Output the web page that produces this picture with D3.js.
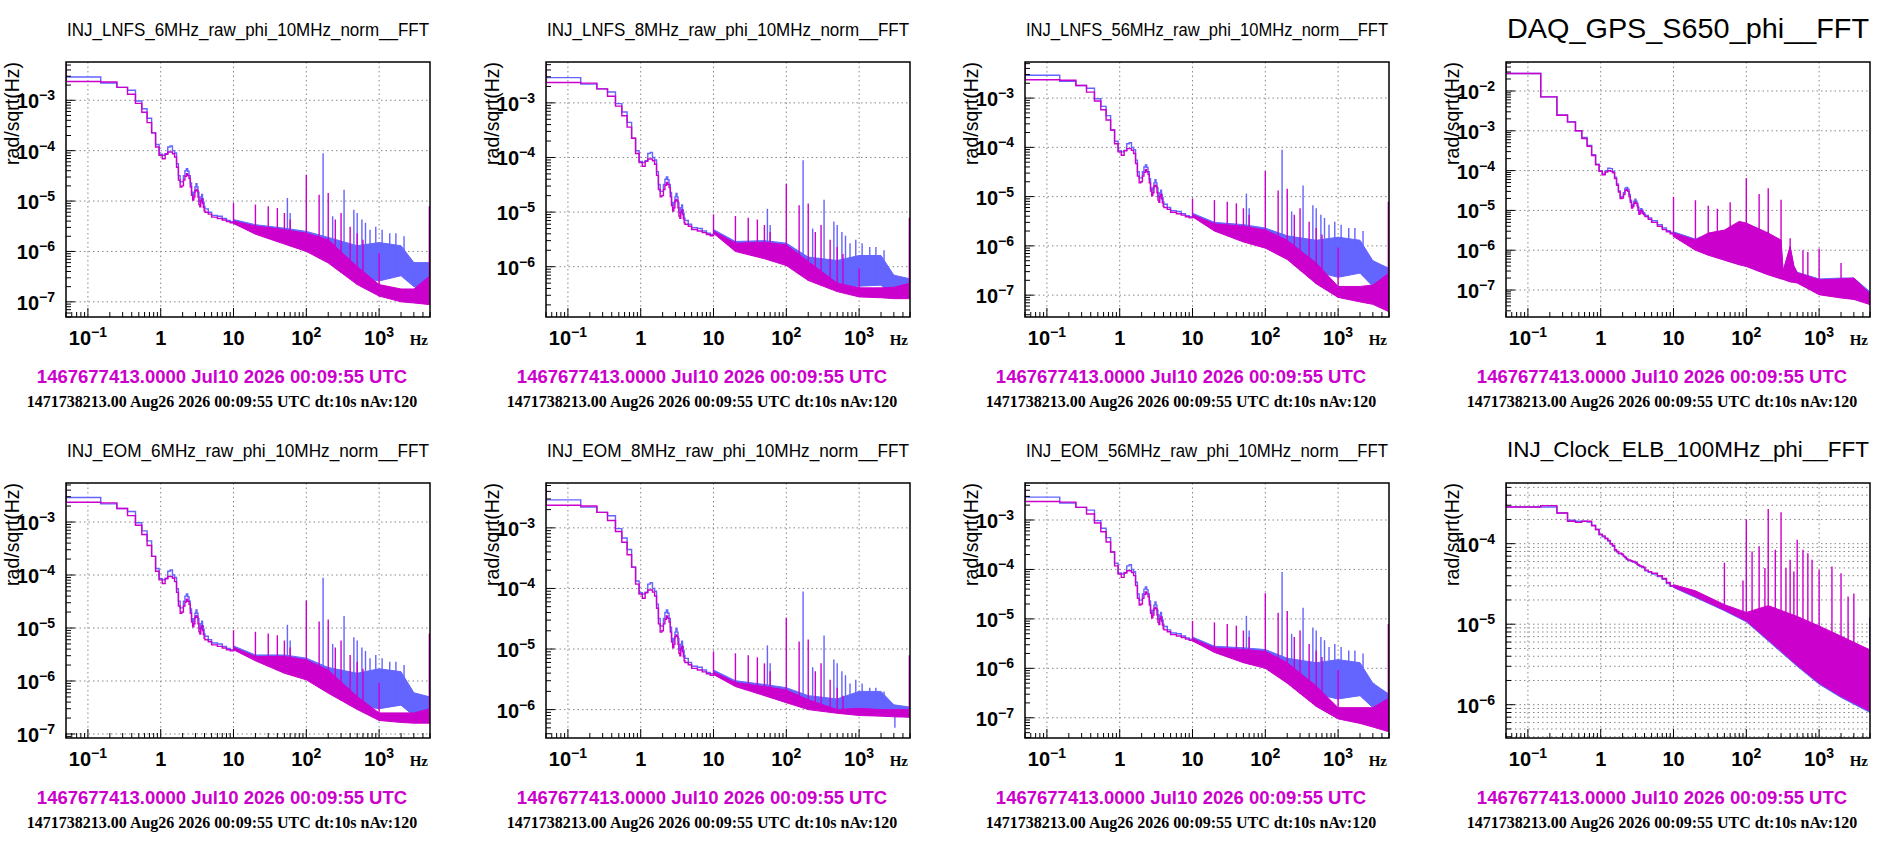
<!DOCTYPE html>
<html><head><meta charset="utf-8">
<script src="https://cdn.jsdelivr.net/npm/d3@7"></script>
<style>body{margin:0;background:#fff}svg{display:block}</style>
</head><body>
<svg id="c" width="1899" height="849"></svg>
<script>
// ---------- DATA ----------
const titles = ["INJ_LNFS_6MHz_raw_phi_10MHz_norm__FFT","INJ_LNFS_8MHz_raw_phi_10MHz_norm__FFT","INJ_LNFS_56MHz_raw_phi_10MHz_norm__FFT","DAQ_GPS_S650_phi__FFT",
  "INJ_EOM_6MHz_raw_phi_10MHz_norm__FFT","INJ_EOM_8MHz_raw_phi_10MHz_norm__FFT","INJ_EOM_56MHz_raw_phi_10MHz_norm__FFT","INJ_Clock_ELB_100MHz_phi__FFT"];
const yDomains = [[5e-8,5.75e-3],[1.2e-7,5.6e-3],[3.6e-8,5.4e-3],[2.1e-8,5.35e-2],[8.4e-8,5.45e-3],[3.4e-7,5.5e-3],[3.9e-8,5.6e-3],[3.86e-7,5.67e-4]];
const xDomain = [0.05, 5000];
const xTickLabels = [[0.1,"10","−1"],[1,"1",""],[10,"10",""],[100,"10","2"],[1000,"10","3"]];
const magentaText = "1467677413.0000 Jul10 2026 00:09:55 UTC";
const blackText = "1471738213.00 Aug26 2026 00:09:55 UTC dt:10s nAv:120";
const yLabel = "rad/sqrt(Hz)";

// low-frequency 0.1 Hz bins centred 0.1 ... 4.0 Hz
const lfMagRF = [2.36e-3,2.3e-3,1.8e-3,1.32e-3,8.7e-4,5.8e-4,3.6e-4,2.25e-4,1.18e-4,8.1e-5,
  6.9e-5,8.5e-5,9.4e-5,9.4e-5,8.7e-5,7.5e-5,4.7e-5,2.6e-5,1.9e-5,2.0e-5,
  2.6e-5,3.1e-5,3.5e-5,3.2e-5,2.8e-5,1.9e-5,1.3e-5,1.05e-5,1.2e-5,1.6e-5,
  1.7e-5,1.6e-5,1.2e-5,8.5e-6,7.7e-6,1.0e-5,1.1e-5,9e-6,7.5e-6,6.4e-6];
const lfBlueRF = [2.9e-3,2.2e-3,1.8e-3,1.58e-3,9.7e-4,6.8e-4,4.4e-4,2.25e-4,1.33e-4,8.5e-5,
  8.1e-5,8.7e-5,1.18e-4,1.24e-4,1.0e-4,9e-5,5.5e-5,3.2e-5,2.4e-5,2.4e-5,
  3.2e-5,4e-5,4.4e-5,3.9e-5,3.2e-5,2.3e-5,1.5e-5,1.3e-5,1.5e-5,1.9e-5,
  2.2e-5,1.9e-5,1.5e-5,1.0e-5,9.5e-6,1.2e-5,1.35e-5,1.1e-5,9.5e-6,7.8e-6];
const lfMagGPS = [2.75e-2,7.1e-3,2.45e-3,1.65e-3,1e-3,6.4e-4,4.1e-4,2.4e-4,1.4e-4,9.6e-5,
  7.9e-5,9.2e-5,1.0e-4,9.6e-5,8.8e-5,6.3e-5,4.3e-5,2.9e-5,2e-5,2.05e-5,
  2.5e-5,3.2e-5,3.3e-5,3.0e-5,2.2e-5,1.6e-5,1.15e-5,1.25e-5,1.5e-5,1.6e-5,
  1.5e-5,1.3e-5,1.0e-5,8e-6,8.5e-6,1.0e-5,9.5e-6,8.5e-6,8e-6,7.8e-6];
const lfBlueGPS = [2.75e-2,7.1e-3,2.5e-3,1.7e-3,1e-3,6.8e-4,4.3e-4,2.5e-4,1.45e-4,9.8e-5,
  8.3e-5,9.8e-5,1.15e-4,1.12e-4,9.5e-5,6.8e-5,4.6e-5,3.1e-5,2.2e-5,2.2e-5,
  2.8e-5,3.6e-5,3.8e-5,3.4e-5,2.5e-5,1.8e-5,1.3e-5,1.4e-5,1.7e-5,1.9e-5,
  1.7e-5,1.5e-5,1.2e-5,9e-6,9.5e-6,1.1e-5,1.05e-5,9.5e-6,8.8e-6,8.5e-6];
const lfMagClock = [2.85e-4,2.97e-4,2.4e-4,1.9e-4,1.84e-4,1.9e-4,1.9e-4,1.67e-4,1.5e-4,1.3e-4,
  1.25e-4,1.17e-4,1.1e-4,1.0e-4,9.5e-5,8.4e-5,8.0e-5,7.6e-5,7.6e-5,7.4e-5,
  7.0e-5,6.8e-5,6.5e-5,6.3e-5,6.3e-5,6.2e-5,6.1e-5,6.0e-5,6.0e-5,5.9e-5,
  5.8e-5,5.6e-5,5.5e-5,5.4e-5,5.3e-5,5.3e-5,5.2e-5,5.2e-5,5.1e-5,5.1e-5];
const lfBlueClock = [2.85e-4,2.85e-4,2.4e-4,1.95e-4,1.9e-4,1.9e-4,1.85e-4,1.7e-4,1.5e-4,1.3e-4,
  1.22e-4,1.15e-4,1.08e-4,1.0e-4,9.3e-5,8.3e-5,7.9e-5,7.5e-5,7.5e-5,7.3e-5,
  6.9e-5,6.7e-5,6.4e-5,6.2e-5,6.2e-5,6.1e-5,6.0e-5,5.9e-5,5.9e-5,5.8e-5,
  5.7e-5,5.5e-5,5.4e-5,5.3e-5,5.2e-5,5.2e-5,5.1e-5,5.1e-5,5.0e-5,5.0e-5];
// 4 - 10 Hz coarse steps
const tailEdges = [4.05,4.5,5,6,7,8,9];
const tailMagRF = [6e-6,5.5e-6,4.8e-6,4.5e-6,4.2e-6,3.9e-6,3.7e-6];
const tailBlueRF = [7e-6,6e-6,5.2e-6,5e-6,4.5e-6,4.1e-6,3.9e-6];
const tailMagGPS = [7e-6,6e-6,5e-6,4e-6,3.3e-6,2.9e-6,2.6e-6];
const tailBlueGPS = [7.5e-6,6.5e-6,5.5e-6,4.4e-6,3.6e-6,3.1e-6,2.8e-6];
const tailMagClock = [4.7e-5,4.5e-5,4.3e-5,4.0e-5,3.7e-5,3.3e-5,3.0e-5];
const tailBlueClock = [4.6e-5,4.4e-5,4.2e-5,3.9e-5,3.6e-5,3.2e-5,2.95e-5];

// dense region (10 Hz - 5 kHz): lower envelope and upper envelope
const bandFreqRF = [10,20,50,100,200,500,1000,2000,3000,5000];
const p1MagFloor=[3.6e-6,2.2e-6,1.4e-6,1.0e-6,5.9e-7,2.2e-7,1.3e-7,1.0e-7,9.5e-8,8.8e-8];
const p1MagTop  =[4.0e-6,3.2e-6,2.7e-6,2.3e-6,1.7e-6,5e-7,2.2e-7,1.8e-7,1.8e-7,3.3e-7];
const p1BlueFloor=[3.6e-6,2.3e-6,1.5e-6,1.05e-6,6.5e-7,3.2e-7,2.6e-7,3.3e-7,2.0e-7,1.9e-7];
const p1BlueTop =[4.3e-6,3.4e-6,2.9e-6,2.5e-6,1.9e-6,1.3e-6,1.5e-6,1.3e-6,6e-7,6e-7];
const p2MagFloor=[4.1e-6,1.9e-6,1.4e-6,1.05e-6,5.6e-7,3.5e-7,2.8e-7,2.7e-7,2.6e-7,2.6e-7];
const p2MagTop  =[4.5e-6,2.7e-6,2.8e-6,2.5e-6,1.25e-6,5e-7,4.1e-7,4.1e-7,4.2e-7,5e-7];
const p2BlueFloor=[4.1e-6,2.0e-6,1.5e-6,1.1e-6,6.5e-7,4.2e-7,4.4e-7,4.6e-7,3.0e-7,2.7e-7];
const p2BlueTop =[4.8e-6,2.9e-6,3.0e-6,2.7e-6,1.5e-6,1.3e-6,1.6e-6,1.6e-6,7e-7,6e-7];
const p3MagFloor=[3.9e-6,2e-6,1.2e-6,9e-7,5.3e-7,1.7e-7,9e-8,7.3e-8,6.5e-8,4.6e-8];
const p3MagTop  =[4.3e-6,2.8e-6,2.5e-6,2.1e-6,1.3e-6,4.5e-7,1.5e-7,1.5e-7,1.6e-7,2.8e-7];
const p3BlueFloor=[3.9e-6,2.1e-6,1.3e-6,9.5e-7,6e-7,3e-7,2.3e-7,2.8e-7,1.5e-7,8e-8];
const p3BlueTop =[4.6e-6,3.0e-6,2.7e-6,2.3e-6,1.6e-6,1.3e-6,1.5e-6,1.3e-6,5e-7,3.5e-7];
const p5MagFloor=[3.9e-6,2.4e-6,1.4e-6,1.05e-6,5.9e-7,2.9e-7,1.8e-7,1.65e-7,1.6e-7,1.6e-7];
const p5MagTop  =[4.3e-6,2.9e-6,2.9e-6,2.5e-6,1.6e-6,5.1e-7,2.5e-7,2.5e-7,2.5e-7,3e-7];
const p5BlueFloor=[3.9e-6,2.5e-6,1.5e-6,1.1e-6,6.5e-7,3.5e-7,3e-7,3.5e-7,2.2e-7,1.8e-7];
const p5BlueTop =[4.6e-6,3.1e-6,3.1e-6,2.7e-6,1.8e-6,1.4e-6,1.7e-6,1.5e-6,6e-7,5e-7];
const p6MagFloor=[3.8e-6,2.4e-6,1.7e-6,1.3e-6,1.0e-6,8.7e-7,8e-7,7.8e-7,7.6e-7,7.5e-7];
const p6MagTop  =[4.2e-6,2.8e-6,2.4e-6,2.1e-6,1.45e-6,1.0e-6,1.05e-6,1.0e-6,1.0e-6,1.0e-6];
const p6BlueFloor=[3.8e-6,2.5e-6,1.8e-6,1.35e-6,1.05e-6,9e-7,8.8e-7,8.8e-7,8e-7,7.5e-7];
const p6BlueTop =[4.5e-6,3.0e-6,2.6e-6,2.3e-6,1.7e-6,1.5e-6,2.0e-6,2.0e-6,1.2e-6,1.1e-6];
const p7MagFloor=[3.6e-6,2.1e-6,1.3e-6,1.0e-6,5e-7,1.7e-7,9.5e-8,7.7e-8,6.5e-8,5.2e-8];
const p7MagTop  =[4.0e-6,2.6e-6,2.4e-6,2.2e-6,1.3e-6,4.4e-7,1.6e-7,1.6e-7,1.6e-7,2.5e-7];
const p7BlueFloor=[3.6e-6,2.2e-6,1.4e-6,1.05e-6,6e-7,3e-7,2.4e-7,2.8e-7,1.6e-7,7e-8];
const p7BlueTop =[4.3e-6,2.8e-6,2.6e-6,2.4e-6,1.6e-6,1.3e-6,1.5e-6,1.3e-6,5e-7,3e-7];
const bandFreqGPS = [10,20,30,50,80,100,200,300,320,400,450,500,1000,2000,3000,5000];
const p4MagFloor=[2.2e-6,1.0e-6,7.5e-7,5.6e-7,4.3e-7,3.9e-7,2.4e-7,1.9e-7,1.85e-7,1.6e-7,1.55e-7,1.5e-7,7.6e-8,6.3e-8,5.8e-8,4.3e-8];
const p4MagTop  =[2.7e-6,1.8e-6,2.7e-6,3.2e-6,5.3e-6,4.8e-6,2.7e-6,1.8e-6,3e-7,1.25e-6,4e-7,2.7e-7,1.8e-7,1.9e-7,2.0e-7,8e-8];
const p4BlueFloor=[2.3e-6,1.05e-6,7.8e-7,5.8e-7,4.4e-7,4.0e-7,2.5e-7,2.0e-7,1.9e-7,1.7e-7,1.6e-7,1.55e-7,8e-8,6.6e-8,6e-8,4.5e-8];
const p4BlueTop =[2.9e-6,1.9e-6,2.6e-6,3.1e-6,5.0e-6,4.6e-6,2.6e-6,1.7e-6,3e-7,1.2e-6,4e-7,2.8e-7,1.9e-7,2.0e-7,2.0e-7,9e-8];
const bandFreqClock = [10,20,50,100,200,500,1000,2000,5000];
const p8MagFloor=[2.9e-5,2.2e-5,1.5e-5,1.1e-5,6.4e-6,3.1e-6,1.86e-6,1.27e-6,8.3e-7];
const p8MagTop  =[3.1e-5,2.6e-5,1.75e-5,1.4e-5,1.7e-5,1.25e-5,9.5e-6,7.1e-6,4.8e-6];
const p8BlueFloor=[2.85e-5,2.15e-5,1.47e-5,1.07e-5,6.2e-6,3.0e-6,1.8e-6,1.23e-6,8.0e-7];
const p8BlueTop =[3.0e-5,2.5e-5,1.7e-5,1.35e-5,1.6e-5,1.2e-5,9e-6,7e-6,4.6e-6];

// spectral lines [Hz, value]
const spikesMagRF = [[10,9.1e-6],[20,8.5e-6],[30,7.9e-6],[40,7.3e-6],[50,5.8e-6],[60,4.3e-6],[100,3.3e-5],[150,1.33e-5],[200,1.44e-5],[250,4.3e-6],[300,5.8e-6],[400,3.1e-6],[500,2.3e-6],[600,1.7e-6],[1000,9.3e-7],[4900,7.9e-6]];
const spikesBlueRF = [[55,1.15e-5],[60,5.8e-6],[170,8.9e-5],[230,5e-6],[330,1.68e-5],[450,6.7e-6],[500,5.8e-6],[580,4.3e-6],[650,3.7e-6],[750,2.7e-6],[900,3.1e-6],[1100,2.7e-6],[1400,2.3e-6],[1700,2.3e-6],[2200,2e-6],[3100,5e-7],[4950,4.3e-6]];
const spikesMagGPS = [[10,2.2e-5],[20,1.8e-5],[30,1.3e-5],[40,1.1e-5],[60,1.6e-5],[100,6.5e-5],[150,2.6e-5],[200,3.6e-5],[300,1.85e-5],[400,2e-6],[600,1.0e-6],[700,9e-7],[1000,1.1e-6],[2000,4.8e-7],[3000,2e-7]];
const spikesBlueGPS = [[100,5e-6],[200,3e-6]];
const spikesMagClock = [[50,5.8e-5],[90,3.5e-5],[100,2e-4],[120,8e-5],[150,9.3e-5],[180,5e-5],[200,2.7e-4],[250,8.4e-5],[300,2.45e-4],[350,5e-5],[400,6.3e-5],[450,4.5e-5],[500,1.12e-4],[600,8.4e-5],[700,7.6e-5],[800,6.3e-5],[1000,4.75e-5],[1500,5.2e-5],[2000,4.3e-5],[2500,2.2e-5],[3000,2.4e-5]];
const spikesBlueClock = [[4950,1.2e-5]];

// ---------- LAYOUT ----------
const frameLefts = [66,546,1025,1506];
const frameTops = [62,483];
const W = 364, H = 255;
const BLUE = "#6464ff", MAG = "#cc00cc";

const panels = [
 {lf:[lfMagRF,lfBlueRF],tail:[tailMagRF,tailBlueRF],bf:bandFreqRF,band:[p1MagFloor,p1MagTop,p1BlueFloor,p1BlueTop],sp:[spikesMagRF,spikesBlueRF],ts:17.5},
 {lf:[lfMagRF,lfBlueRF],tail:[tailMagRF,tailBlueRF],bf:bandFreqRF,band:[p2MagFloor,p2MagTop,p2BlueFloor,p2BlueTop],sp:[spikesMagRF,spikesBlueRF],ts:17.5},
 {lf:[lfMagRF,lfBlueRF],tail:[tailMagRF,tailBlueRF],bf:bandFreqRF,band:[p3MagFloor,p3MagTop,p3BlueFloor,p3BlueTop],sp:[spikesMagRF,spikesBlueRF],ts:17.5},
 {lf:[lfMagGPS,lfBlueGPS],tail:[tailMagGPS,tailBlueGPS],bf:bandFreqGPS,band:[p4MagFloor,p4MagTop,p4BlueFloor,p4BlueTop],sp:[spikesMagGPS,spikesBlueGPS],ts:28},
 {lf:[lfMagRF,lfBlueRF],tail:[tailMagRF,tailBlueRF],bf:bandFreqRF,band:[p5MagFloor,p5MagTop,p5BlueFloor,p5BlueTop],sp:[spikesMagRF,spikesBlueRF],ts:17.5},
 {lf:[lfMagRF,lfBlueRF],tail:[tailMagRF,tailBlueRF],bf:bandFreqRF,band:[p6MagFloor,p6MagTop,p6BlueFloor,p6BlueTop],sp:[spikesMagRF,spikesBlueRF],ts:17.5},
 {lf:[lfMagRF,lfBlueRF],tail:[tailMagRF,tailBlueRF],bf:bandFreqRF,band:[p7MagFloor,p7MagTop,p7BlueFloor,p7BlueTop],sp:[spikesMagRF,spikesBlueRF],ts:17.5},
 {lf:[lfMagClock,lfBlueClock],tail:[tailMagClock,tailBlueClock],bf:bandFreqClock,band:[p8MagFloor,p8MagTop,p8BlueFloor,p8BlueTop],sp:[spikesMagClock,spikesBlueClock],ts:22,minorGrid:true}
];

const svg = d3.select("#c");
const sans = "'Liberation Sans', Arial, Helvetica, sans-serif";
const serif = "'Liberation Serif', 'Times New Roman', serif";

panels.forEach((p,i)=>{
  const L = frameLefts[i%4], T = frameTops[Math.floor(i/4)];
  const x = d3.scaleLog().domain(xDomain).range([L, L+W]);
  const y = d3.scaleLog().domain(yDomains[i]).range([T+H, T]);
  const g = svg.append("g");
  const cid = "clip"+i;
  svg.append("clipPath").attr("id",cid).append("rect").attr("x",L).attr("y",T).attr("width",W).attr("height",H);

  const grid = g.append("g").attr("stroke","#888").attr("stroke-width",1).attr("stroke-dasharray","1.5,3");
  [0.1,1,10,100,1000].forEach(v=>grid.append("line").attr("x1",x(v)).attr("x2",x(v)).attr("y1",T).attr("y2",T+H));
  const yd = yDomains[i];
  const ymaj = [], ymin = [];
  for(let e=-9;e<=0;e++){ for(let m=1;m<10;m++){ const v=m*Math.pow(10,e); if(v>=yd[0]&&v<=yd[1]) (m===1?ymaj:ymin).push(v);} }
  ymaj.forEach(v=>grid.append("line").attr("x1",L).attr("x2",L+W).attr("y1",y(v)).attr("y2",y(v)));
  if(p.minorGrid) ymin.forEach(v=>grid.append("line").attr("x1",L).attr("x2",L+W).attr("y1",y(v)).attr("y2",y(v)));

  const data = g.append("g").attr("clip-path",`url(#${cid})`);
  [1,0].forEach(s=>{
    const col = s===1?BLUE:MAG;
    const lf = p.lf[s], tail = p.tail[s];
    const floor = p.band[s===0?0:2], top = p.band[s===0?1:3];
    const pts = [[0.01, 1]];
    lf.forEach((v,k)=>pts.push([0.05+0.1*k, v]));
    tail.forEach((v,k)=>pts.push([tailEdges[k], v]));
    pts.push([p.bf[0], floor[0]]);
    data.append("path").attr("d", d3.line().x(d=>x(d[0])).y(d=>y(d[1])).curve(d3.curveStepAfter)(pts))
      .attr("fill","none").attr("stroke",col).attr("stroke-width",1.4);
    const band = p.bf.map((f,k)=>[f, floor[k], top[k]]);
    data.append("path").attr("d", d3.area().x(d=>x(d[0])).y0(d=>y(d[1])).y1(d=>y(d[2]))(band))
      .attr("fill",col).attr("stroke",col).attr("stroke-width",1);
    const floorAt = f => { const ys = band.map(b=>Math.log10(b[1])), xs = band.map(b=>Math.log10(b[0]));
      return Math.pow(10, d3.scaleLinear().domain(xs).range(ys)(Math.log10(f))); };
    data.append("g").selectAll("line").data(p.sp[s]).join("line")
      .attr("x1",d=>x(d[0])).attr("x2",d=>x(d[0])).attr("y1",d=>y(d[1])).attr("y2",d=>y(floorAt(d[0])))
      .attr("stroke",col).attr("stroke-width",1.4);
  });

  g.append("rect").attr("x",L).attr("y",T).attr("width",W).attr("height",H).attr("fill","none").attr("stroke","#000").attr("stroke-width",1.5);
  const tk = g.append("g").attr("stroke","#000").attr("stroke-width",1);
  for(let e=-2;e<=3;e++) for(let m=1;m<10;m++){ const v=m*Math.pow(10,e); if(v<xDomain[0]||v>xDomain[1]) continue;
    const len = m===1?9:5; tk.append("line").attr("x1",x(v)).attr("x2",x(v)).attr("y1",T+H).attr("y2",T+H-len); }
  ymaj.forEach(v=>tk.append("line").attr("x1",L).attr("x2",L+9).attr("y1",y(v)).attr("y2",y(v)));
  ymin.forEach(v=>tk.append("line").attr("x1",L).attr("x2",L+5).attr("y1",y(v)).attr("y2",y(v)));

  xTickLabels.forEach(([v,b,ex])=>{
    const t = g.append("text").attr("x",x(v)).attr("y",T+H+28).attr("text-anchor","middle")
      .attr("font-family",sans).attr("font-weight","bold").attr("font-size",20);
    t.append("tspan").text(b);
    if(ex) t.append("tspan").attr("dy",-8).attr("font-size",14).text(ex);
  });
  g.append("text").attr("x",L+W-2).attr("y",T+H+28).attr("text-anchor","end").attr("font-family",serif)
    .attr("font-weight","bold").attr("font-size",15).text("Hz");
  ymaj.forEach(v=>{
    const e = Math.round(Math.log10(v));
    const t = g.append("text").attr("x",L-11).attr("y",y(v)+8).attr("text-anchor","end")
      .attr("font-family",sans).attr("font-weight","bold").attr("font-size",20);
    t.append("tspan").text("10");
    t.append("tspan").attr("dy",-8).attr("font-size",14).text("−"+(-e));
  });
  g.append("text").attr("transform",`translate(${L-47},${T}) rotate(-90)`).attr("text-anchor","end")
    .attr("font-family",sans).attr("font-size",19.5).text(yLabel);
  g.append("text").attr("x",L+W/2).attr("y", T - (i===3?24:26)).attr("text-anchor","middle")
    .attr("font-family",sans).attr("font-size",p.ts).attr("textLength",W-2).attr("lengthAdjust","spacingAndGlyphs").text(titles[i]);
  g.append("text").attr("x",L+156).attr("y",T+321).attr("text-anchor","middle").attr("font-family",sans)
    .attr("font-weight","bold").attr("font-size",18.5).attr("fill",MAG).text(magentaText);
  g.append("text").attr("x",L+156).attr("y",T+345).attr("text-anchor","middle").attr("font-family",serif)
    .attr("font-weight","bold").attr("font-size",16).attr("fill","#000").text(blackText);
});
</script>
</body></html>
